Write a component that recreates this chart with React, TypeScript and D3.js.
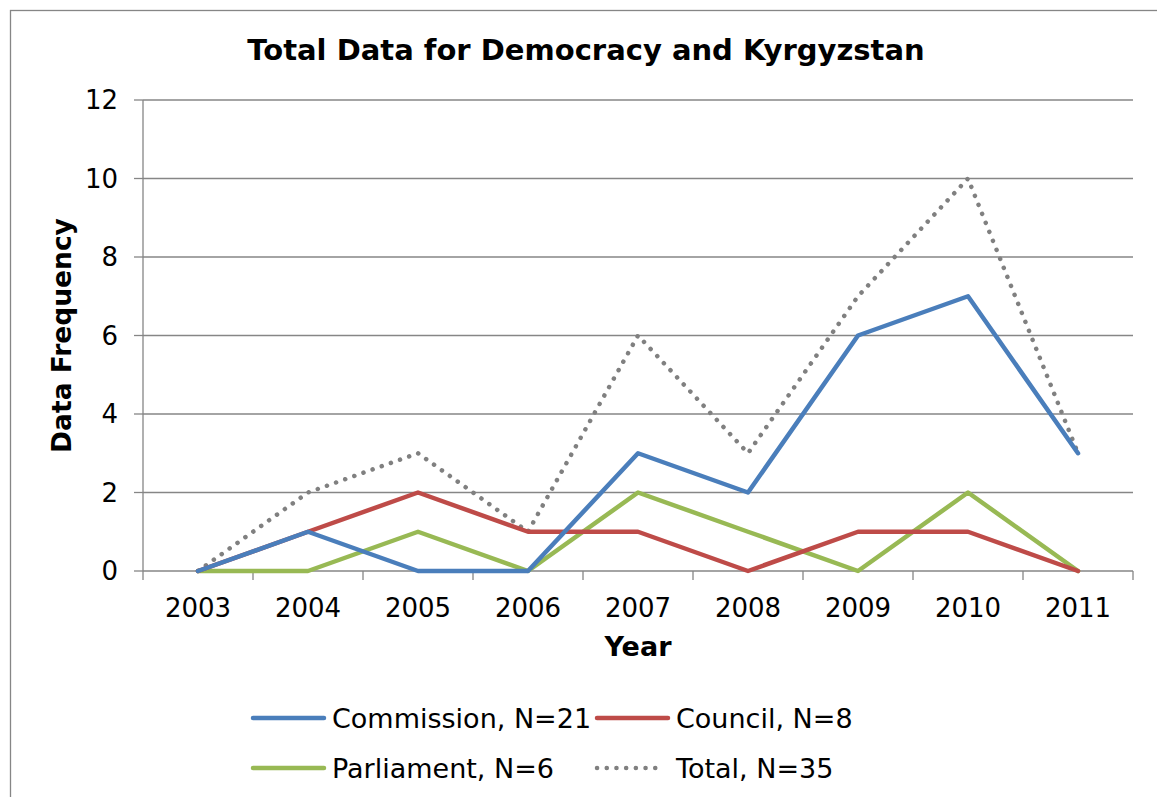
import React from "react";
import * as d3 from "d3";

const years = ["2003", "2004", "2005", "2006", "2007", "2008", "2009", "2010", "2011"];
const commission = [0, 1, 0, 0, 3, 2, 6, 7, 3];
const council = [0, 1, 2, 1, 1, 0, 1, 1, 0];
const parliament = [0, 0, 1, 0, 2, 1, 0, 2, 0];
const total = [0, 2, 3, 1, 6, 3, 7, 10, 3];
const yTicks = [0, 2, 4, 6, 8, 10, 12];

const seriesNames = ["Commission, N=21", "Council, N=8", "Parliament, N=6", "Total, N=35"];
const colors = ["#4A7EBB", "#BE4B48", "#98B954", "#808080"];

const W = 1157;
const H = 797;
const FONT = "'DejaVu Sans', Verdana, sans-serif";

export default function App() {
  const left = 143, right = 1133, top = 100, bottom = 571;
  const x = d3.scaleBand<string>().domain(years).range([left, right]);
  const y = d3.scaleLinear().domain([0, 12]).range([bottom, top]);
  const line = d3
    .line<number>()
    .x((_, i) => (x(years[i]) as number) + x.bandwidth() / 2)
    .y((d) => y(d));

  const series = [commission, council, parliament, total];
  const drawOrder = [3, 2, 1, 0];
  const axisColor = "#868686";

  const legendItems = [
    { i: 0, lx: 253, ly: 718 },
    { i: 1, lx: 597, ly: 718 },
    { i: 2, lx: 253, ly: 768 },
    { i: 3, lx: 597, ly: 768 },
  ];

  const boundaries = [...years.map((yr) => x(yr) as number), right];

  return (
    <svg
      width={W}
      height={H}
      style={{ position: "absolute", left: 0, top: 0, background: "#fff" }}
      fontFamily={FONT}
    >
      <rect x={0} y={0} width={W} height={H} fill="#fff" />
      <rect x={10.5} y={10.5} width={W + 20} height={H + 20} fill="none" stroke={axisColor} strokeWidth={1.3} />
      <text x={586} y={60} textAnchor="middle" fontWeight="bold" fontSize={29}>
        Total Data for Democracy and Kyrgyzstan
      </text>
      {/* gridlines */}
      {yTicks.map((t) => (
        <line key={"g" + t} x1={left} x2={right} y1={y(t)} y2={y(t)} stroke={axisColor} strokeWidth={1.3} />
      ))}
      {/* y axis */}
      <line x1={left} x2={left} y1={top} y2={bottom} stroke={axisColor} strokeWidth={1.3} />
      {yTicks.map((t) => (
        <g key={"yt" + t}>
          <line x1={left - 9} x2={left} y1={y(t)} y2={y(t)} stroke={axisColor} strokeWidth={1.3} />
          <text x={118} y={y(t)} dy="0.36em" textAnchor="end" fontSize={26}>
            {t}
          </text>
        </g>
      ))}
      {/* x axis ticks */}
      {boundaries.map((b, i) => (
        <line key={"xt" + i} x1={b} x2={b} y1={bottom} y2={bottom + 9} stroke={axisColor} strokeWidth={1.3} />
      ))}
      {years.map((yr) => (
        <text key={yr} x={(x(yr) as number) + x.bandwidth() / 2} y={617} textAnchor="middle" fontSize={26}>
          {yr}
        </text>
      ))}
      <text x={638} y={656} textAnchor="middle" fontWeight="bold" fontSize={27}>
        Year
      </text>
      <text
        transform={`translate(71,${(top + bottom) / 2}) rotate(-90)`}
        textAnchor="middle"
        fontWeight="bold"
        fontSize={26.5}
      >
        Data Frequency
      </text>
      {/* series */}
      {drawOrder.map((si) => (
        <path
          key={"s" + si}
          d={line(series[si]) || ""}
          fill="none"
          stroke={colors[si]}
          strokeWidth={4.5}
          strokeLinejoin="round"
          strokeLinecap="round"
          strokeDasharray={si === 3 ? "0.1 9.6" : undefined}
        />
      ))}
      {/* legend */}
      {legendItems.map(({ i, lx, ly }) => (
        <g key={"l" + i}>
          <line
            x1={lx}
            x2={i === 3 ? lx + 62 : lx + 71}
            y1={ly}
            y2={ly}
            stroke={colors[i]}
            strokeWidth={4.5}
            strokeLinecap="round"
            strokeDasharray={i === 3 ? "0.1 9.6" : undefined}
          />
          <text x={lx + 79} y={ly} dy="0.36em" fontSize={27}>
            {seriesNames[i]}
          </text>
        </g>
      ))}
    </svg>
  );
}
